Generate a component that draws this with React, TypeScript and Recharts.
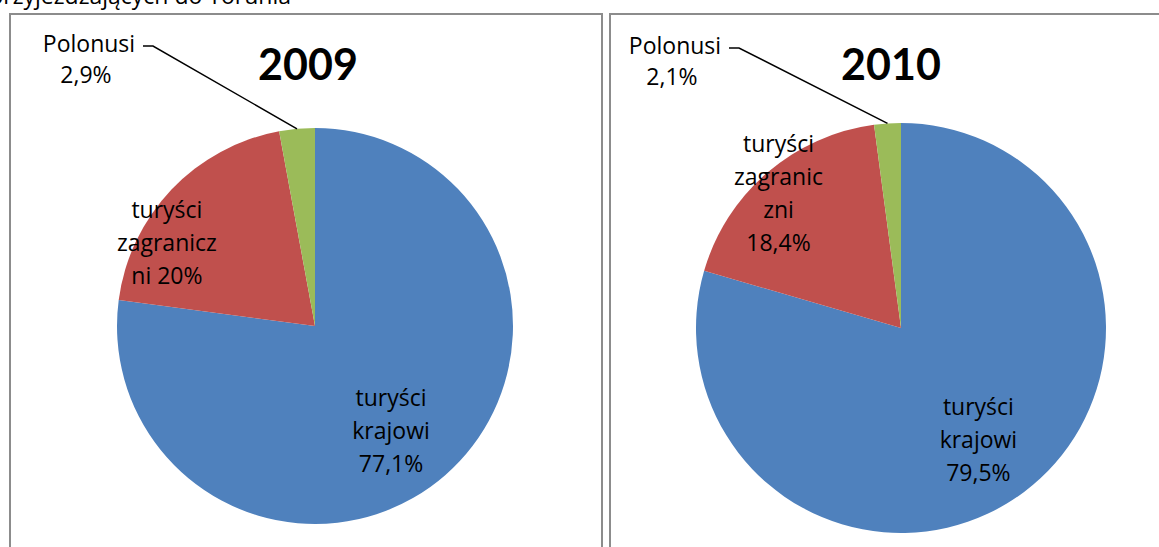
import { PieChart, Pie, Cell } from 'recharts';

const categories = ['turyści krajowi', 'turyści zagraniczni', 'Polonusi'];
const share2009 = [77.1, 20, 2.9];
const share2010 = [79.5, 18.4, 2.1];
const labels2009 = [
  ['turyści', 'krajowi', '77,1%'],
  ['turyści', 'zagranicz', 'ni 20%'],
  ['Polonusi', '2,9%'],
];
const labels2010 = [
  ['turyści', 'krajowi', '79,5%'],
  ['turyści', 'zagranic', 'zni', '18,4%'],
  ['Polonusi', '2,1%'],
];
const colors = ['#4F81BD', '#C0504D', '#9BBB59'];

const FONT = '"Open Sans", sans-serif';
const TITLE_FONT = 'Lato, sans-serif';
const RAD = Math.PI / 180;

// label placement per slice: radius factor and angle nudge (deg)
const place2009 = [{ f: 0.65, shift: -5 }, { f: 0.86, shift: 14 }];
const place2010 = [{ f: 0.66, shift: -2 }, { f: 0.89, shift: 1.5 }];

function makeLabel(lines: string[][], place: { f: number; shift: number }[]) {
  return (props: any) => {
    const { cx, cy, midAngle, outerRadius, index } = props;
    const lh = 33;
    if (index === 2) {
      // outside label with leader line
      const tx = cx - 226;
      const ty = cy - 283;
      const ex = cx + outerRadius * Math.cos(-midAngle * RAD);
      const ey = cy + outerRadius * Math.sin(-midAngle * RAD);
      return (
        <g>
          <text x={tx} y={ty} textAnchor="middle" dominantBaseline="central" fontSize={23} fontFamily={FONT} fill="#000">
            {lines[index].map((s, i) => (
              <tspan key={i} x={i === 0 ? tx : tx - 3} y={ty + i * 31}>{s}</tspan>
            ))}
          </text>
          <polyline
            points={`${tx + 54},${ty + 3} ${tx + 64},${ty + 3} ${ex},${ey}`}
            fill="none"
            stroke="#000"
            strokeWidth={1.5}
          />
        </g>
      );
    }
    const p = place[index];
    const a = (midAngle + p.shift) * RAD;
    const r = outerRadius * p.f;
    const x = cx + r * Math.cos(-a);
    const y = cy + r * Math.sin(-a);
    const n = lines[index].length;
    const y0 = y - ((n - 1) / 2) * lh;
    return (
      <text x={x} y={y0} textAnchor="middle" dominantBaseline="central" fontSize={23} fontFamily={FONT} fill="#000">
        {lines[index].map((s, i) => (
          <tspan key={i} x={x} y={y0 + i * lh}>{s}</tspan>
        ))}
      </text>
    );
  };
}

const data2009 = categories.map((name, i) => ({ name, value: share2009[i] }));
const data2010 = categories.map((name, i) => ({ name, value: share2010[i] }));

const panel = {
  position: 'absolute' as const,
  top: 13,
  height: 560,
  border: '2px solid #8c8c8c',
  background: '#fff',
  boxSizing: 'border-box' as const,
};

const title = {
  position: 'absolute' as const,
  top: 24,
  fontFamily: TITLE_FONT,
  fontWeight: 700,
  fontSize: 43,
  lineHeight: '50px',
  color: '#000',
  zIndex: 1,
};

const noMargin = { top: 0, right: 0, bottom: 0, left: 0 };

export default function App() {
  return (
    <div style={{ position: 'absolute', left: 0, top: 0, width: 1159, height: 547, overflow: 'hidden', background: '#fff' }}>
      <div
        style={{
          position: 'absolute',
          left: -200,
          width: 491,
          top: -20,
          lineHeight: '30px',
          textAlign: 'right',
          fontFamily: FONT,
          fontSize: 23,
          whiteSpace: 'nowrap',
        }}
      >
        przyjeżdżających do Torunia
      </div>
      <div style={{ ...panel, left: 9, width: 594 }}>
        <div style={{ ...title, left: 237, width: 120, textAlign: 'center' }}>2009</div>
        <PieChart width={590} height={545} margin={noMargin} style={{ position: 'absolute', left: 0, top: 0 }}>
          <Pie
            data={data2009}
            dataKey="value"
            nameKey="name"
            cx={304}
            cy={311}
            outerRadius={198}
            startAngle={90}
            endAngle={-270}
            stroke="none"
            label={makeLabel(labels2009, place2009)}
            labelLine={false}
            isAnimationActive={false}
          >
            {data2009.map((d, i) => (
              <Cell key={d.name} fill={colors[i]} />
            ))}
          </Pie>
        </PieChart>
      </div>
      <div style={{ ...panel, left: 609, width: 600 }}>
        <div style={{ ...title, left: 220, width: 120, textAlign: 'center' }}>2010</div>
        <PieChart width={596} height={545} margin={noMargin} style={{ position: 'absolute', left: 0, top: 0 }}>
          <Pie
            data={data2010}
            dataKey="value"
            nameKey="name"
            cx={290}
            cy={313}
            outerRadius={205}
            startAngle={90}
            endAngle={-270}
            stroke="none"
            label={makeLabel(labels2010, place2010)}
            labelLine={false}
            isAnimationActive={false}
          >
            {data2010.map((d, i) => (
              <Cell key={d.name} fill={colors[i]} />
            ))}
          </Pie>
        </PieChart>
      </div>
    </div>
  );
}
